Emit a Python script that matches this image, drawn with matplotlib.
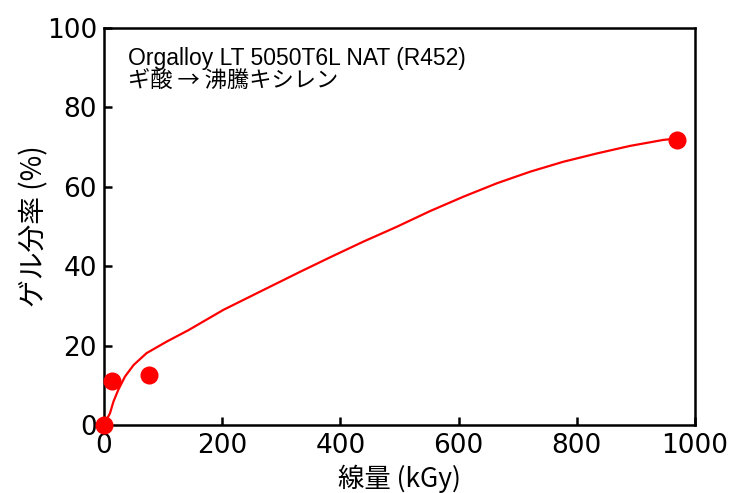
import matplotlib
matplotlib.use("Agg")
import matplotlib.pyplot as plt

# measured data points
dose = [0, 13, 76, 970]
gel = [0, 11.2, 12.7, 71.8]

# fitted curve
fit_dose = [0, 3, 10, 16, 24, 35.5, 50, 72, 106, 143, 202, 275, 332, 382, 439, 495,
            552, 608, 665, 721, 777, 834, 890, 946, 970]
fit_gel = [0, 1.0, 2.9, 5.9, 8.8, 12.2, 15.1, 18.1, 21.0, 23.9, 29.0, 34.4, 38.6, 42.2, 46.2, 49.9,
           53.9, 57.5, 60.9, 63.8, 66.3, 68.4, 70.3, 71.8, 72.2]

xticks = [0, 200, 400, 600, 800, 1000]
yticks = [0, 20, 40, 60, 80, 100]

title_line1 = 'Orgalloy LT 5050T6L NAT (R452)'
title_line2 = 'ギ酸 → 沸騰キシレン'

plt.rcParams['font.family'] = ['DejaVu Sans', 'Noto Sans CJK JP']

fig = plt.figure(figsize=(7.3, 4.93), dpi=100)
ax = fig.add_axes([104/730, 68/493, (695-104)/730, (425-28)/493])

ax.plot(fit_dose, fit_gel, color='#ff0000', lw=1.6, zorder=3, solid_joinstyle='round')
ax.plot(dose, gel, 'o', color='#ff0000', ms=12, zorder=4, clip_on=False)

ax.set_xlim(0, 1000)
ax.set_ylim(0, 100)
ax.set_xticks(xticks)
ax.set_yticks(yticks)
ax.tick_params(direction='in', length=6, width=1.8, labelsize=19)
ax.tick_params(axis='x', pad=6)
ax.tick_params(axis='y', pad=5)
for s in ax.spines.values():
    s.set_linewidth(1.8)

lab_font = ['Noto Sans CJK JP', 'DejaVu Sans']
ax.set_xlabel('線量 (kGy)', fontsize=19, labelpad=4, family=lab_font)
ax.set_ylabel('ゲル分率 (%)', fontsize=20, labelpad=-2, family=lab_font)

ax.text(0.041, 0.906, title_line1, transform=ax.transAxes,
        fontsize=16.5, va='baseline', ha='left',
        family=['Liberation Sans', 'Noto Sans CJK JP'])
ax.text(0.041, 0.848, title_line2, transform=ax.transAxes,
        fontsize=16, va='baseline', ha='left',
        family=['Noto Sans CJK JP', 'DejaVu Sans'])

fig.savefig('out.png', dpi=100)
